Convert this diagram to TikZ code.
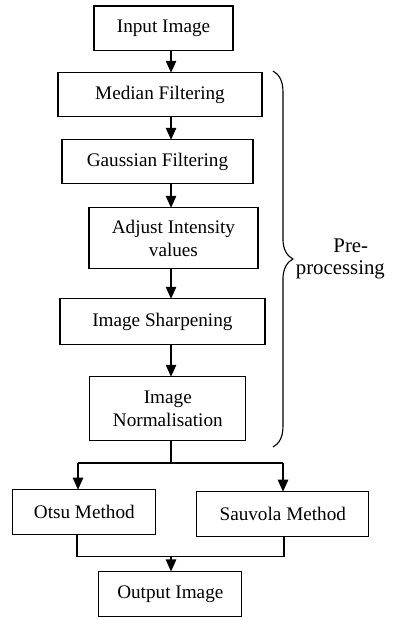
\documentclass[tikz,border=0pt]{standalone}
\usepackage{fontspec}
\setmainfont{Liberation Serif}
\usetikzlibrary{positioning,arrows.meta,decorations.pathreplacing}
\begin{document}
\begin{tikzpicture}[box node/.style={rectangle,draw,line width=0.8pt,outer sep=0pt,minimum height=28pt,align=center,inner sep=2pt,font=\fontsize{12pt}{14.5pt}\selectfont}, flow/.style={line width=0.9pt,-{Triangle[length=7.5pt,width=6.5pt]}}, link/.style={line width=0.8pt}]
            \useasboundingbox (0,0) rectangle (248.75pt,-386.9pt);
            \coordinate (ax) at (106.9pt,0);
            \node[box node,minimum width=86.9pt,anchor=north] (in) at (102.2pt,-3.75pt) {Input Image};
            \node[box node,minimum width=127.5pt,minimum height=27.5pt] (median) [below=13.75pt of in,xshift=-2.2pt] {Median Filtering};
            \node[box node,minimum width=119.4pt,minimum height=27.5pt] (gauss) [below=14.4pt of median,xshift=-1.6pt] {Gaussian Filtering};
            \node[box node,minimum width=105.6pt,minimum height=38.1pt] (adjust) [below=15pt of gauss,xshift=10pt] {Adjust Intensity\\values};
            \node[box node,minimum width=128.1pt,minimum height=28.75pt] (sharp) [below=18.75pt of adjust,xshift=-6.9pt] {Image Sharpening};
            \node[box node,minimum width=97.5pt,minimum height=40pt] (norm) [below=20pt of sharp,xshift=3.4pt] {Image\\Normalisation};
            \node[box node,minimum width=89.4pt] (otsu) [below=30.6pt of norm,xshift=-52.2pt] {Otsu Method};
            \node[box node,minimum width=107.5pt] (sauvola) [right=25.6pt of otsu,yshift=-1.25pt] {Sauvola Method};
            \node[box node,minimum width=89.4pt] (out) [below=23.1pt of otsu,xshift=53.75pt] {Output Image};
            \path[flow] (in.south -| ax) edge (median.north -| ax);
            \path[flow] (median.south -| ax) edge (gauss.north -| ax);
            \path[flow] (gauss.south -| ax) edge (adjust.north -| ax);
            \path[flow] (adjust.south -| ax) edge (sharp.north -| ax);
            \path[flow] (sharp.south -| ax) edge (norm.north -| ax);
            % split to the two methods
            \coordinate (sl) at (48.75pt,-289.4pt);
            \coordinate (sr) at (176.9pt,-289.4pt);
            \draw[link] (norm.south -| ax) -- (ax |- sl);
            \draw[link] (sl) -- (sr);
            \path[flow] (sl) edge (sl |- otsu.north);
            \path[flow] (sr) edge (sr |- sauvola.north);
            % merge into the output
            \coordinate (ml) at (48.1pt,-347.8pt);
            \coordinate (mr) at (177.5pt,-347.8pt);
            \draw[link] (otsu.south -| ml) -- (ml) -- (mr) -- (sauvola.south -| mr);
            \path[flow] (ax |- ml) edge (out.north -| ax);
            % brace
            \draw[line width=0.7pt,decorate,decoration={brace,amplitude=12.5pt}] (170.6pt,-44.4pt) -- (170.6pt,-279.4pt) node[midway,xshift=14pt,anchor=west,align=center,inner sep=0pt,font=\fontsize{13pt}{14pt}\selectfont] (pre) {\hspace*{1em}Pre-\\processing};
        \end{tikzpicture}
\end{document}
